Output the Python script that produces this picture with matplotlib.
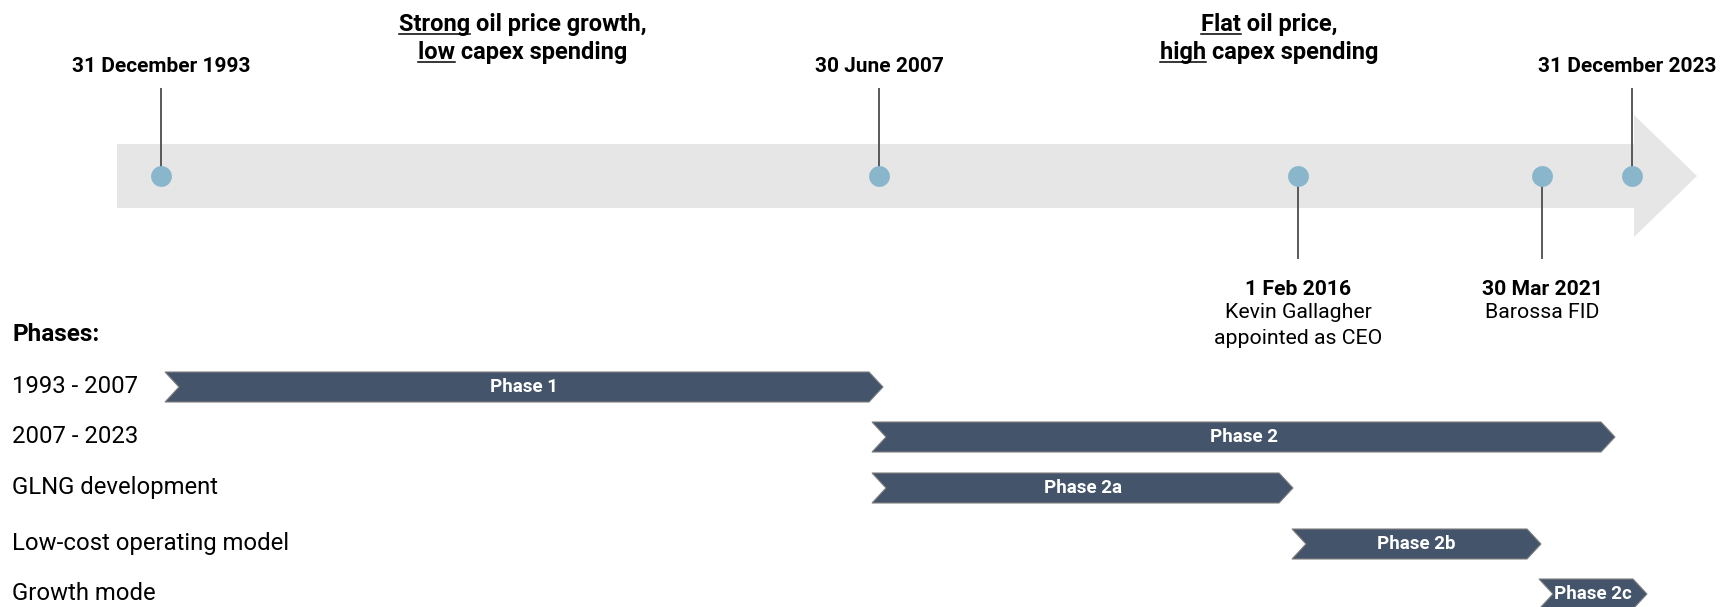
import matplotlib.pyplot as plt
from matplotlib.patches import Polygon

plt.rcParams['font.family'] = ['Roboto', 'DejaVu Sans']

# milestones along the (schematic) timeline arrow
milestone_dates = ["31 December 1993", "30 June 2007", "1 Feb 2016", "30 Mar 2021", "31 December 2023"]
milestone_notes = ["", "", "Kevin Gallagher\nappointed as CEO", "Barossa FID", ""]
milestone_pos = [161, 879, 1298, 1542, 1632]
milestone_above = [True, True, False, False, True]

# era headings: (underlined word, rest of line) per line
era_pos = [523, 1269]
era_lines = [
    [("Strong", " oil price growth,"), ("low", " capex spending")],
    [("Flat", " oil price,"), ("high", " capex spending")],
]

# phase chevrons
phase_rows = ["1993 - 2007", "2007 - 2023", "GLNG development", "Low-cost operating model", "Growth mode"]
phase_names = ["Phase 1", "Phase 2", "Phase 2a", "Phase 2b", "Phase 2c"]
phase_start = [165, 872, 872, 1292, 1539]
phase_end = [883, 1615, 1293, 1541, 1647]

BAND = '#E7E6E6'
DOT = '#8AB6CC'
STEM = '#595959'
BAR = '#44546A'

fig = plt.figure(figsize=(17.2, 6.07), dpi=100)
ax = fig.add_axes([0, 0, 1, 1])
ax.set_xlim(0, 1720)
ax.set_ylim(607, 0)
ax.axis('off')

# timeline arrow
band_y, band_h = 176, 64
head_h, band_x0, head_x0, head_x1 = 122, 117, 1634, 1697
arrow = [(band_x0, band_y - band_h / 2), (head_x0, band_y - band_h / 2),
         (head_x0, band_y - head_h / 2), (head_x1, band_y),
         (head_x0, band_y + head_h / 2), (head_x0, band_y + band_h / 2),
         (band_x0, band_y + band_h / 2)]
ax.add_patch(Polygon(arrow, closed=True, facecolor=BAND, edgecolor='none', zorder=1))

# stems, dots and labels
for x, date, note, above in zip(milestone_pos, milestone_dates, milestone_notes, milestone_above):
    if above:
        ax.plot([x, x], [89, band_y], color=STEM, lw=1.4, zorder=2)
        if x > 1600:
            ax.text(1716, 72, date, ha='right', va='baseline', fontsize=15, fontweight='bold')
        else:
            ax.text(x, 72, date, ha='center', va='baseline', fontsize=15, fontweight='bold')
    else:
        ax.plot([x, x], [band_y, 258], color=STEM, lw=1.4, zorder=2)
        ax.text(x, 295, date, ha='center', va='baseline', fontsize=15.2, fontweight='bold')
        for i, line in enumerate(note.split('\n')):
            ax.text(x, 318 + 26 * i, line, ha='center', va='baseline', fontsize=15.3)
    ax.plot(x, band_y, 'o', ms=15, color=DOT, mec='none', zorder=3)

# era headings with underlined keyword
fig.canvas.draw()
renderer = fig.canvas.get_renderer()
inv = ax.transData.inverted()
for cx, lines in zip(era_pos, era_lines):
    for j, (word, rest) in enumerate(lines):
        base = 30.5 + 28 * j
        t = ax.text(cx, base, word + rest, ha='center', va='baseline',
                    fontsize=17, fontweight='bold')
        bb = t.get_window_extent(renderer)
        tmp = ax.text(0, 0, word, fontsize=17, fontweight='bold')
        wb = tmp.get_window_extent(renderer)
        tmp.remove()
        x0 = inv.transform((bb.x0, 0))[0]
        x1 = inv.transform((bb.x0 + wb.width, 0))[0]
        ax.plot([x0, x1], [base + 3, base + 3], color='black', lw=1.1)

# phases
ax.text(12, 341, "Phases:", ha='left', va='baseline', fontsize=17.5, fontweight='bold')
row_y = [387, 437, 488, 544, 594]
h, d = 30, 14
for y, label, name, x0, x1 in zip(row_y, phase_rows, phase_names, phase_start, phase_end):
    ax.text(12, y + 6, label, ha='left', va='baseline', fontsize=17.2)
    pts = [(x0, y - h / 2), (x1 - d, y - h / 2), (x1, y), (x1 - d, y + h / 2),
           (x0, y + h / 2), (x0 + d, y)]
    ax.add_patch(Polygon(pts, closed=True, facecolor=BAR, edgecolor='#7F7F7F', lw=0.8, zorder=2))
    ax.text((x0 + x1) / 2, y, name, ha='center', va='center', color='white',
            fontsize=13.5, fontweight='bold', zorder=3)

fig.savefig('out.png', dpi=100, facecolor='white')
